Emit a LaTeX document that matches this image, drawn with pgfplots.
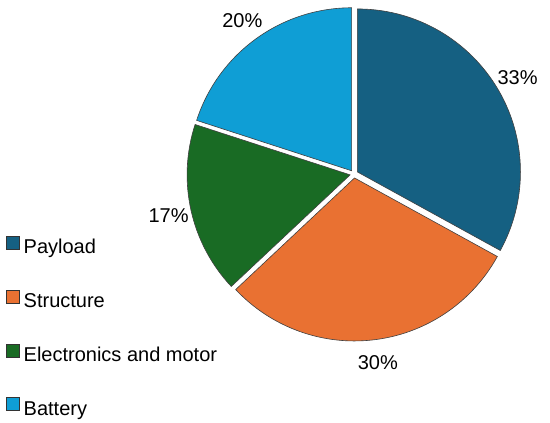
\documentclass[border=0pt]{standalone}
\usepackage{fontspec}
\setmainfont{Liberation Sans}
\usepackage{pgfplots}
\usepackage{pgfplotstable}
\pgfplotsset{compat=1.18}

\definecolor{pie0}{HTML}{156082}
\definecolor{pie1}{HTML}{E97132}
\definecolor{pie2}{HTML}{196B24}
\definecolor{pie3}{HTML}{0F9ED5}

\pgfdeclareplotmark{empty}{}

% share of mass per subsystem, start = cumulative share before the slice
\pgfplotstableread[col sep=comma]{
idx,name,value,start,cx,cy
0,Payload,33,0,354,248
1,Structure,30,33,354,248
2,Electronics and motor,17,63,354,248
3,Battery,20,80,354,248
}\piedata

\newcommand{\labfont}{\fontsize{20bp}{24bp}\selectfont}

\begin{document}
\begin{tikzpicture}
\begin{axis}[
    width=550bp, height=422bp, scale only axis,
    xmin=0, xmax=550, ymin=0, ymax=422,
    hide axis, clip=false,
    legend cell align=left,
    legend image code/.code={
        \draw[#1, draw=black!80, line width=0.5bp] (0bp,-0.5bp) rectangle (13bp,12.5bp);
    },
    legend style={
        draw=none, fill=none,
        at={(0.0109,0.441)}, anchor=north west,
        font=\labfont, row sep=30bp, column sep=3bp,
        inner sep=0pt,
        nodes={inner sep=1bp, text height=15bp, text depth=5bp},
    },
]
\addplot[
    forget plot, only marks, scatter, mark=empty,
    point meta=explicit symbolic,
    scatter/@pre marker code/.code={
        \pgfplotstablegetelem{\pgfplotspointmeta}{value}\of\piedata
        \let\sliceval=\pgfplotsretval
        \pgfplotstablegetelem{\pgfplotspointmeta}{start}\of\piedata
        \let\slicestart=\pgfplotsretval
        \pgfmathsetmacro\aS{90-3.6*\slicestart}
        \pgfmathsetmacro\aE{90-3.6*(\slicestart+\sliceval)}
        \pgfmathsetmacro\aM{(\aS+\aE)/2}
        \fill[fill=pie\pgfplotspointmeta, draw=black!75, line width=0.6bp]
            (\aM:4bp) -- ++(\aS:163bp)
            arc[start angle=\aS, end angle=\aE, radius=163bp] -- cycle;
        \node[font=\labfont, inner sep=0pt] at (\aM:190bp) {\sliceval\%};
    },
    scatter/@post marker code/.code={},
] table[x=cx, y=cy, meta=idx] \piedata;

\addlegendimage{fill=pie0}
\addlegendimage{fill=pie1}
\addlegendimage{fill=pie2}
\addlegendimage{fill=pie3}
\legend{Payload, Structure, Electronics and motor, Battery}

\path (rel axis cs:0,0) (rel axis cs:1,1);
\end{axis}
\end{tikzpicture}
\end{document}
